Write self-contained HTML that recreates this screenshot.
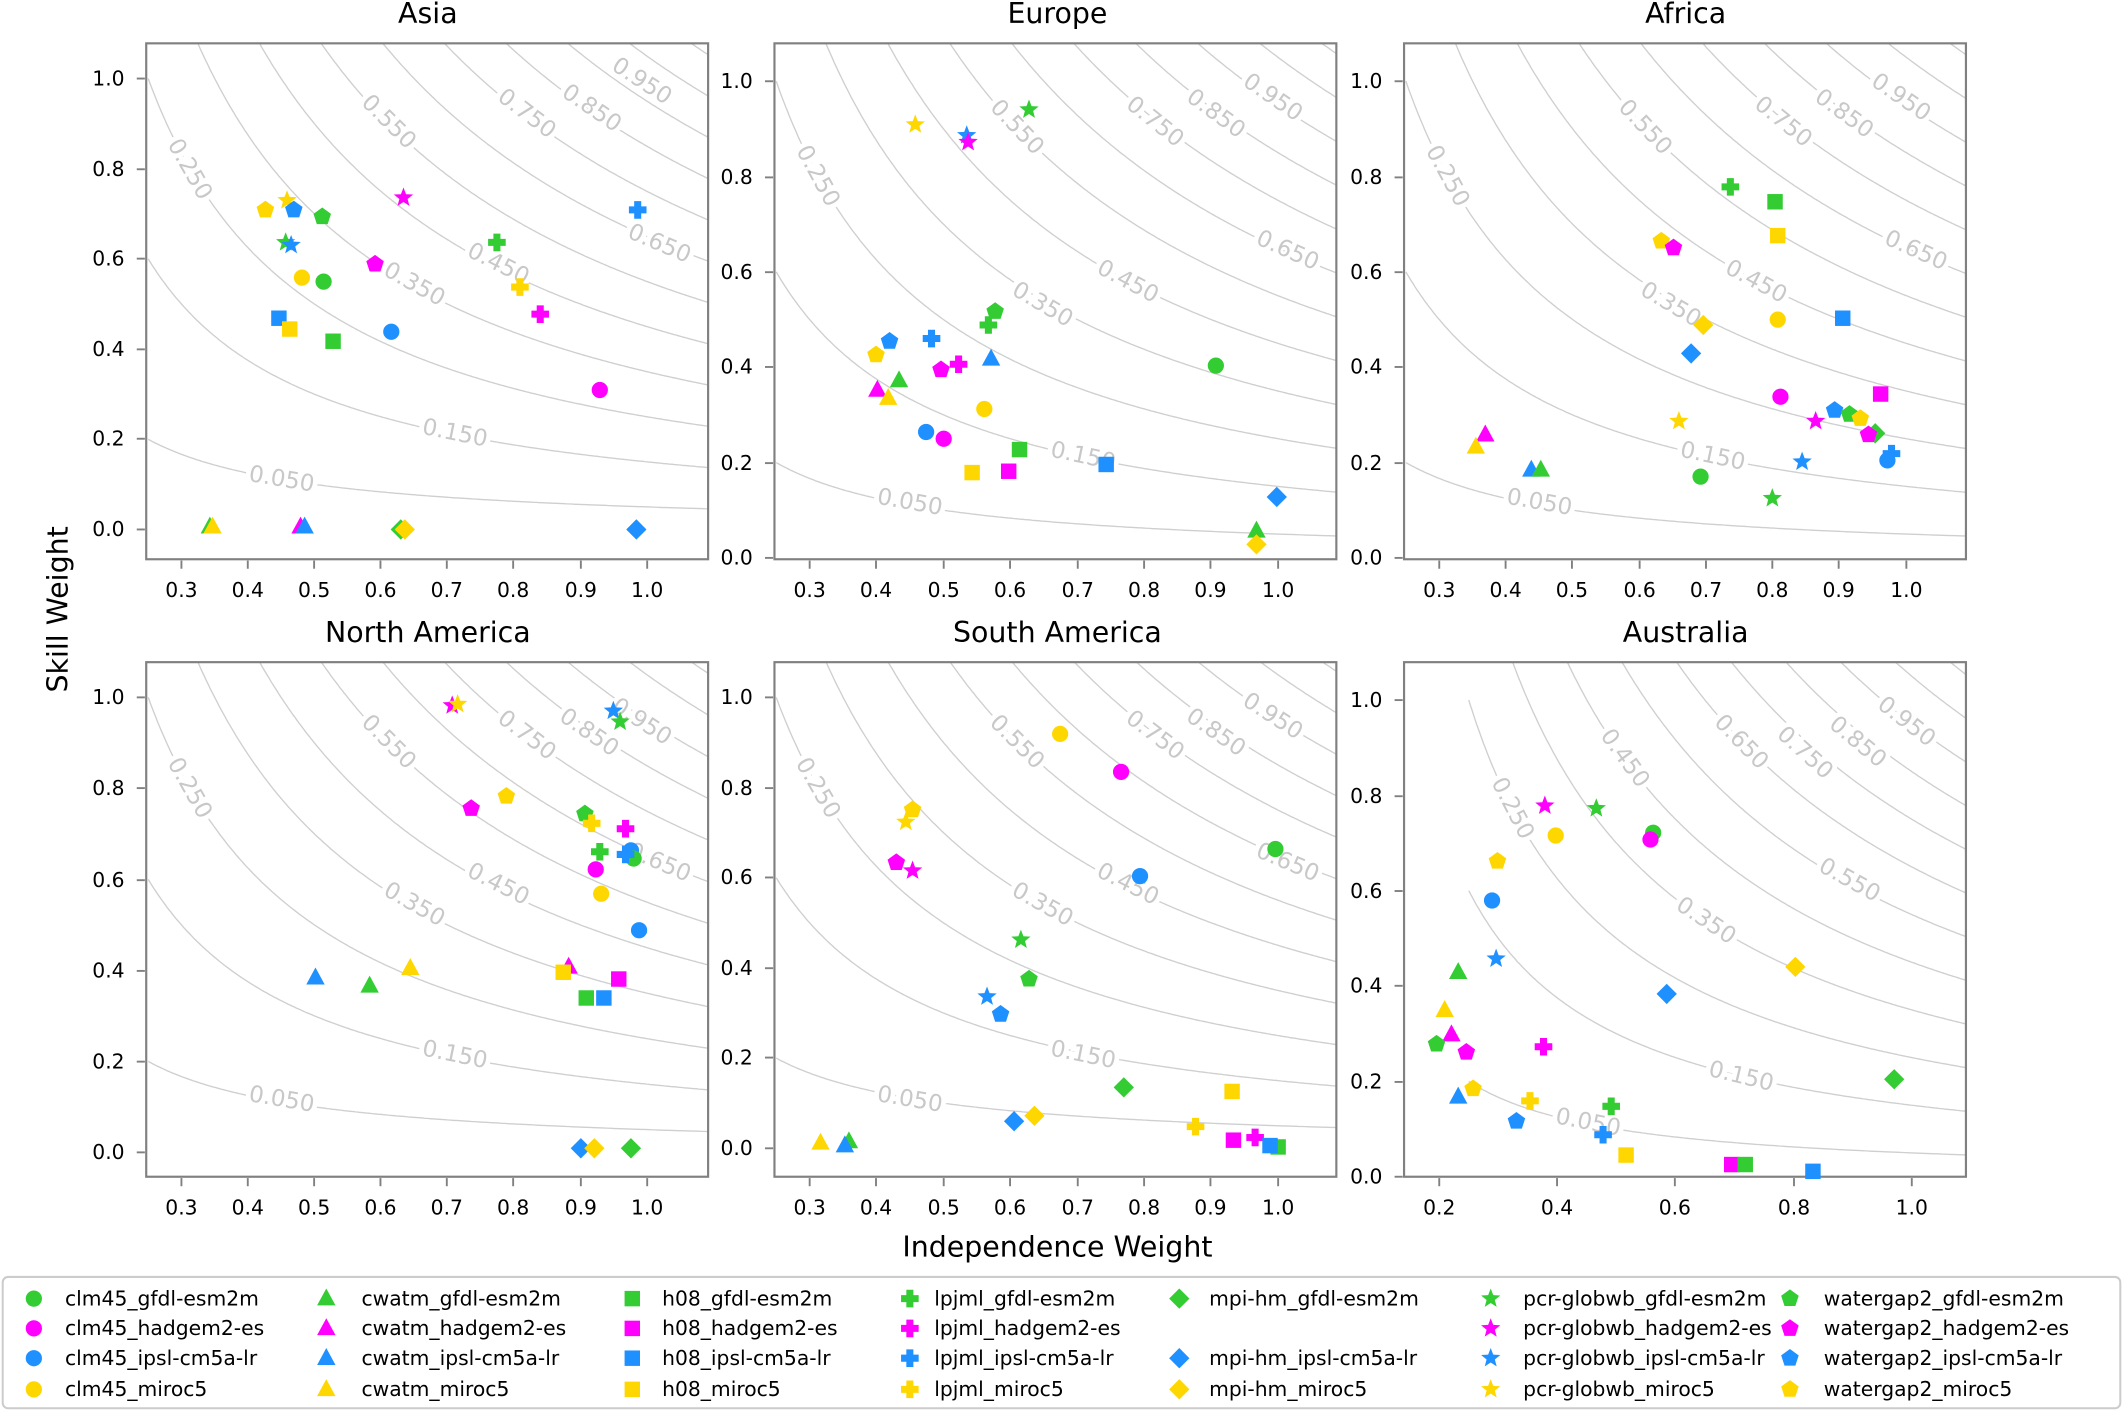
<!DOCTYPE html>
<html><head><meta charset="utf-8"><style>
html,body{margin:0;padding:0;background:#fff;}
svg{display:block;font-family:"DejaVu Sans","Liberation Sans",sans-serif;}
.t{font-size:15px;fill:#000;}
.ttl{font-size:21px;fill:#000;text-anchor:middle;}
.cl{font-size:17px;fill:#c8c8c8;text-anchor:middle;dominant-baseline:central;stroke:#fff;stroke-width:7px;paint-order:stroke;}
.lg{font-size:15px;fill:#000;}
</style></head><body>
<svg id="s" width="2123" height="1411" viewBox="0 0 1568 1042" preserveAspectRatio="none" xmlns="http://www.w3.org/2000/svg">
<rect width="1568" height="1042" fill="#fff"/>
<g id="curves"></g>
<g id="labels">
<g id="L0">
<text class="cl" x="474" y="60">0.950</text><text class="cl" x="437" y="80">0.850</text><text class="cl" x="389" y="84">0.750</text><text class="cl" x="287" y="90">0.550</text><text class="cl" x="140" y="125">0.250</text><text class="cl" x="487" y="180">0.650</text><text class="cl" x="368" y="195">0.450</text><text class="cl" x="306" y="210">0.350</text><text class="cl" x="336" y="320">0.150</text><text class="cl" x="208" y="354">0.050</text>
</g>
<g id="L1">
<text class="cl" x="940" y="72">0.950</text><text class="cl" x="898" y="84">0.850</text><text class="cl" x="853" y="90">0.750</text><text class="cl" x="751" y="94">0.550</text><text class="cl" x="604" y="130">0.250</text><text class="cl" x="951" y="185">0.650</text><text class="cl" x="833" y="208">0.450</text><text class="cl" x="770" y="225">0.350</text><text class="cl" x="800" y="337">0.150</text><text class="cl" x="672" y="371">0.050</text>
</g>
<g id="L2">
<text class="cl" x="1404" y="72">0.950</text><text class="cl" x="1362" y="84">0.850</text><text class="cl" x="1317" y="90">0.750</text><text class="cl" x="1215" y="94">0.550</text><text class="cl" x="1069" y="130">0.250</text><text class="cl" x="1415" y="185">0.650</text><text class="cl" x="1297" y="208">0.450</text><text class="cl" x="1234" y="225">0.350</text><text class="cl" x="1265" y="337">0.150</text><text class="cl" x="1137" y="371">0.050</text>
</g>
<g id="L3">
<text class="cl" x="474" y="533">0.950</text><text class="cl" x="435" y="541">0.850</text><text class="cl" x="389" y="543">0.750</text><text class="cl" x="287" y="548">0.550</text><text class="cl" x="140" y="582">0.250</text><text class="cl" x="487" y="637">0.650</text><text class="cl" x="368" y="653">0.450</text><text class="cl" x="306" y="668">0.350</text><text class="cl" x="336" y="779">0.150</text><text class="cl" x="208" y="812">0.050</text>
</g>
<g id="L4">
<text class="cl" x="940" y="529">0.950</text><text class="cl" x="898" y="541">0.850</text><text class="cl" x="853" y="543">0.750</text><text class="cl" x="751" y="548">0.550</text><text class="cl" x="604" y="582">0.250</text><text class="cl" x="951" y="637">0.650</text><text class="cl" x="833" y="653">0.450</text><text class="cl" x="770" y="668">0.350</text><text class="cl" x="800" y="779">0.150</text><text class="cl" x="672" y="812">0.050</text>
</g>
<g id="L5">
<text class="cl" x="1408" y="533">0.950</text><text class="cl" x="1372" y="548">0.850</text><text class="cl" x="1333" y="556">0.750</text><text class="cl" x="1286" y="548">0.650</text><text class="cl" x="1366" y="650">0.550</text><text class="cl" x="1200" y="560">0.450</text><text class="cl" x="1260" y="680">0.350</text><text class="cl" x="1117" y="597">0.250</text><text class="cl" x="1286" y="795">0.150</text><text class="cl" x="1173" y="829">0.050</text>
</g>
</g>
<g id="frames"></g>
<g id="marks"></g>

<!-- titles -->
<text class="ttl" x="316" y="17">Asia</text>
<text class="ttl" x="781" y="17">Europe</text>
<text class="ttl" x="1245" y="17">Africa</text>
<text class="ttl" x="316" y="474">North America</text>
<text class="ttl" x="781" y="474">South America</text>
<text class="ttl" x="1245" y="474">Australia</text>
<text class="ttl" x="0" y="0" transform="translate(50,450) rotate(-90)">Skill Weight</text>
<text class="ttl" x="781" y="928">Independence Weight</text>

<!-- x tick labels -->
<g class="t" text-anchor="middle">
<text x="134" y="441">0.3</text><text x="183" y="441">0.4</text><text x="232" y="441">0.5</text><text x="281" y="441">0.6</text><text x="330" y="441">0.7</text><text x="379" y="441">0.8</text><text x="429" y="441">0.9</text><text x="478" y="441">1.0</text>
<text x="598" y="441">0.3</text><text x="647" y="441">0.4</text><text x="697" y="441">0.5</text><text x="746" y="441">0.6</text><text x="796" y="441">0.7</text><text x="845" y="441">0.8</text><text x="894" y="441">0.9</text><text x="944" y="441">1.0</text>
<text x="1063" y="441">0.3</text><text x="1112" y="441">0.4</text><text x="1161" y="441">0.5</text><text x="1211" y="441">0.6</text><text x="1260" y="441">0.7</text><text x="1309" y="441">0.8</text><text x="1358" y="441">0.9</text><text x="1408" y="441">1.0</text>
<text x="134" y="897">0.3</text><text x="183" y="897">0.4</text><text x="232" y="897">0.5</text><text x="281" y="897">0.6</text><text x="330" y="897">0.7</text><text x="379" y="897">0.8</text><text x="429" y="897">0.9</text><text x="478" y="897">1.0</text>
<text x="598" y="897">0.3</text><text x="647" y="897">0.4</text><text x="697" y="897">0.5</text><text x="746" y="897">0.6</text><text x="796" y="897">0.7</text><text x="845" y="897">0.8</text><text x="894" y="897">0.9</text><text x="944" y="897">1.0</text>
<text x="1063" y="897">0.2</text><text x="1150" y="897">0.4</text><text x="1237" y="897">0.6</text><text x="1325" y="897">0.8</text><text x="1412" y="897">1.0</text>
</g>
<!-- y tick labels -->
<g class="t" text-anchor="end">
<text x="92" y="396">0.0</text><text x="92" y="329">0.2</text><text x="92" y="263">0.4</text><text x="92" y="196">0.6</text><text x="92" y="130">0.8</text><text x="92" y="63">1.0</text>
<text x="556" y="417">0.0</text><text x="556" y="347">0.2</text><text x="556" y="276">0.4</text><text x="556" y="206">0.6</text><text x="556" y="136">0.8</text><text x="556" y="65">1.0</text>
<text x="1021" y="417">0.0</text><text x="1021" y="347">0.2</text><text x="1021" y="276">0.4</text><text x="1021" y="206">0.6</text><text x="1021" y="136">0.8</text><text x="1021" y="65">1.0</text>
<text x="92" y="856">0.0</text><text x="92" y="789">0.2</text><text x="92" y="722">0.4</text><text x="92" y="655">0.6</text><text x="92" y="587">0.8</text><text x="92" y="520">1.0</text>
<text x="556" y="853">0.0</text><text x="556" y="786">0.2</text><text x="556" y="720">0.4</text><text x="556" y="653">0.6</text><text x="556" y="587">0.8</text><text x="556" y="520">1.0</text>
<text x="1021" y="874">0.0</text><text x="1021" y="804">0.2</text><text x="1021" y="733">0.4</text><text x="1021" y="663">0.6</text><text x="1021" y="593">0.8</text><text x="1021" y="522">1.0</text>
</g>

<!-- legend -->
<rect x="2" y="943" width="1564" height="97" rx="4" fill="#fff" stroke="#cccccc" stroke-width="1.5"/>
<g id="lgm"></g>
<g class="lg">
<text x="48" y="964">clm45_gfdl-esm2m</text><text x="48" y="986">clm45_hadgem2-es</text><text x="48" y="1008">clm45_ipsl-cm5a-lr</text><text x="48" y="1031">clm45_miroc5</text>
<text x="267" y="964">cwatm_gfdl-esm2m</text><text x="267" y="986">cwatm_hadgem2-es</text><text x="267" y="1008">cwatm_ipsl-cm5a-lr</text><text x="267" y="1031">cwatm_miroc5</text>
<text x="489" y="964">h08_gfdl-esm2m</text><text x="489" y="986">h08_hadgem2-es</text><text x="489" y="1008">h08_ipsl-cm5a-lr</text><text x="489" y="1031">h08_miroc5</text>
<text x="690" y="964">lpjml_gfdl-esm2m</text><text x="690" y="986">lpjml_hadgem2-es</text><text x="690" y="1008">lpjml_ipsl-cm5a-lr</text><text x="690" y="1031">lpjml_miroc5</text>
<text x="893" y="964">mpi-hm_gfdl-esm2m</text><text x="893" y="1008">mpi-hm_ipsl-cm5a-lr</text><text x="893" y="1031">mpi-hm_miroc5</text>
<text x="1125" y="964">pcr-globwb_gfdl-esm2m</text><text x="1125" y="986">pcr-globwb_hadgem2-es</text><text x="1125" y="1008">pcr-globwb_ipsl-cm5a-lr</text><text x="1125" y="1031">pcr-globwb_miroc5</text>
<text x="1347" y="964">watergap2_gfdl-esm2m</text><text x="1347" y="986">watergap2_hadgem2-es</text><text x="1347" y="1008">watergap2_ipsl-cm5a-lr</text><text x="1347" y="1031">watergap2_miroc5</text>
</g>
</svg>
<script>
(function(){
var NS="http://www.w3.org/2000/svg";
function el(t,a,p){var e=document.createElementNS(NS,t);for(var k in a)e.setAttribute(k,a[k]);p.appendChild(e);return e;}
// panels: box [x0,y0,x1,y1], xpix=px+(x-xv)*xs, ypix=py-y*ys
var P=[
{b:[108,32,523,413],px:134,xv:0.3,xs:491,py:391,ys:333,xt:[134,183,232,281,330,379,429,478],yt:[391,324,258,191,125,58]},
{b:[572,32,987,413],px:598,xv:0.3,xs:494.3,py:412,ys:352,xt:[598,647,697,746,796,845,894,944],yt:[412,342,271,201,131,60]},
{b:[1037,32,1452,413],px:1063,xv:0.3,xs:492.9,py:412,ys:352,xt:[1063,1112,1161,1211,1260,1309,1358,1408],yt:[412,342,271,201,131,60]},
{b:[108,489,523,869],px:134,xv:0.3,xs:491,py:851,ys:336,xt:[134,183,232,281,330,379,429,478],yt:[851,784,717,650,582,515]},
{b:[572,489,987,869],px:598,xv:0.3,xs:494.3,py:848,ys:333,xt:[598,647,697,746,796,845,894,944],yt:[848,781,715,648,582,515]},
{b:[1037,489,1452,869],px:1063,xv:0.2,xs:436.25,py:869,ys:352,xt:[1063,1150,1237,1325,1412],yt:[869,799,728,658,588,517]}
];
var defs=el('defs',{},document.getElementById('s'));
var cg=document.getElementById('curves'),fg=document.getElementById('frames');
P.forEach(function(p,i){
  var b=p.b;
  var cp=el('clipPath',{id:'c'+i},defs);el('rect',{x:b[0],y:b[1],width:b[2]-b[0],height:b[3]-b[1]},cp);
  var g=el('g',{'clip-path':'url(#c'+i+')'},cg);
  var xmin=Math.max(0.25,p.xv+(b[0]-p.px)/p.xs),xmax=p.xv+(b[2]-p.px)/p.xs;
  for(var c=0.05;c<1.2;c+=0.1){
    var d='';for(var k=0;k<=300;k++){var x=xmin+(xmax-xmin)*k/300,y=c/x;
      var X=p.px+(x-p.xv)*p.xs,Y=p.py-y*p.ys;if(Y<b[1]-300)Y=b[1]-300;d+=(k?'L':'M')+X.toFixed(1)+','+Y.toFixed(1);}
    el('path',{d:d,fill:'none',stroke:'#cfcfcf','stroke-width':1},g);
  }
  el('rect',{x:b[0],y:b[1],width:b[2]-b[0],height:b[3]-b[1],fill:'none',stroke:'#808080','stroke-width':1.6},fg);
  p.xt.forEach(function(x){el('line',{x1:x,x2:x,y1:b[3]+1,y2:b[3]+7,stroke:'#808080','stroke-width':1.4},fg);});
  p.yt.forEach(function(y){el('line',{x1:b[0]-1,x2:b[0]-7,y1:y,y2:y,stroke:'#808080','stroke-width':1.4},fg);});
  // rotate labels
  var ts=document.getElementById('L'+i).getElementsByTagName('text');
  for(var j=0;j<ts.length;j++){var t=ts[j],X=+t.getAttribute('x'),Y=+t.getAttribute('y'),c2=parseFloat(t.textContent);
    var x=p.xv+(X-p.px)/p.xs;var sl=c2/(x*x)*p.ys/p.xs;var a=Math.atan(sl)*180/Math.PI;
    t.setAttribute('transform','rotate('+a.toFixed(1)+' '+X+' '+Y+')');}
});
var C={G:'#33cc33',M:'#ff00ff',B:'#1e90ff',Y:'#ffd700'};
var mg=document.getElementById('marks');
function star(r1,r2){var s='';for(var k=0;k<10;k++){var r=k%2?r2:r1,a=-Math.PI/2+k*Math.PI/5;s+=(r*Math.cos(a)).toFixed(2)+','+(r*Math.sin(a)).toFixed(2)+' ';}return s;}
function poly(n,r){var s='';for(var k=0;k<n;k++){var a=-Math.PI/2+k*2*Math.PI/n;s+=(r*Math.cos(a)).toFixed(2)+','+(r*Math.sin(a)).toFixed(2)+' ';}return s;}
function mk(sh,col,x,y,par){
  var g=el('g',{transform:'translate('+x+','+y+')',fill:C[col]},par||mg);
  if(sh=='o')el('circle',{r:6},g);
  else if(sh=='^')el('polygon',{points:'0,-7.5 6.8,5 -6.8,5'},g);
  else if(sh=='s')el('rect',{x:-5.7,y:-5.7,width:11.4,height:11.4},g);
  else if(sh=='P')el('polygon',{points:'-2.6,-6.5 2.6,-6.5 2.6,-2.6 6.5,-2.6 6.5,2.6 2.6,2.6 2.6,6.5 -2.6,6.5 -2.6,2.6 -6.5,2.6 -6.5,-2.6 -2.6,-2.6'},g);
  else if(sh=='D')el('polygon',{points:'0,-7.5 7.5,0 0,7.5 -7.5,0'},g);
  else if(sh=='*')el('polygon',{points:star(7.5,3.2)},g);
  else if(sh=='p')el('polygon',{points:poly(5,6.8)},g);
}
var D=[
// Asia
'oY 223 205','oG 239 208','oB 289 245','oM 443 288',
'^G 155 389','^Y 157 389','^M 222 389','^B 225 389',
'sB 206 235','sY 214 243','sG 246 252',
'PG 367 179','PM 399 232','PB 471 155','PY 384 212',
'DG 296 391','DY 299 391','DB 470 391',
'*Y 212 148','*G 211 179','*B 215 181','*M 298 146',
'pY 196 155','pB 217 155','pG 238 160','pM 277 195',
// Europe
'oG 898 270','oB 684 319','oM 697 324','oY 727 302',
'^M 648 288','^G 664 281','^Y 656 294','^B 732 265',
'sG 753 332','sM 745 348','sY 718 349','sB 817 343',
'PG 730 240','PM 708 269','PB 688 250',
'^G 928 392','DY 928 402','DB 943 367',
'*G 760 81','*B 714 100','*M 715 105','*Y 676 92',
'pG 735 230','pY 647 262','pB 657 252','pM 695 273',
// Africa
'PG 1278 138','sG 1311 149','sY 1313 174','pY 1227 178','pM 1236 183','sB 1361 235','oY 1313 236','DY 1258 240','DB 1249 261',
'oM 1315 293','sM 1389 291','pB 1355 303','pG 1366 306','pY 1374 309','DG 1385 320','pM 1380 321','*M 1341 311','*B 1331 341','*Y 1240 311','*G 1309 368',
'oG 1256 352','oB 1394 340','PB 1397 335','^M 1097 321','^Y 1090 330','^B 1131 347','^G 1138 347',
// North America
'*M 334 521','*Y 338 520','*B 453 525','*G 458 533','pM 348 597','pY 374 588','pG 432 601','PY 437 608','PM 462 612','PG 443 629','oB 466 628','oG 468 634','PB 462 631',
'oM 440 642','oY 444 660','oB 472 687','^B 233 722','^G 273 728','^Y 303 715','^M 420 714','sY 416 718','sM 457 723','sG 433 737','sB 446 737','DB 429 848','DY 439 848','DG 466 848',
// South America
'oY 783 542','oM 828 570','pY 674 598','*Y 669 607','pM 662 637','*M 674 643','oB 842 647','oG 942 627','*G 754 694','pG 760 723','*B 729 736','pB 739 749',
'DG 830 803','sY 910 806','DY 764 824','DB 749 828','PY 883 832','sM 911 842','PM 927 840','sG 944 847','sB 938 846','^Y 606 844','^G 627 843','^B 624 846',
// Australia
'*M 1141 595','*G 1179 597','oG 1221 615','oM 1219 620','oY 1149 617','pY 1106 636','oB 1102 665','DY 1326 714','^G 1077 718','*B 1105 708','DB 1231 734',
'^Y 1067 746','^M 1072 764','pM 1083 777','pG 1061 771','PM 1140 773','DG 1399 797','pY 1088 804','^B 1077 810','PY 1130 813','PG 1190 817','pB 1120 828','PB 1184 838',
'sY 1201 853','sM 1279 860','sG 1289 860','sB 1339 865'
];
D.forEach(function(s){var a=s.split(' ');mk(a[0][0],a[0][1],+a[1],+a[2]);});
// legend markers
var lg=document.getElementById('lgm');
var cols=[['o',25],['^',241],['s',467],['P',672],['D',871],['*',1101],['p',1322]];
var rows=[959,981,1003,1026],cc=['G','M','B','Y'];
cols.forEach(function(c){for(var r=0;r<4;r++){if(c[0]=='D'&&r==1)continue;mk(c[0],cc[r],c[1],rows[r],lg);}});
})();
</script>
</body></html>
